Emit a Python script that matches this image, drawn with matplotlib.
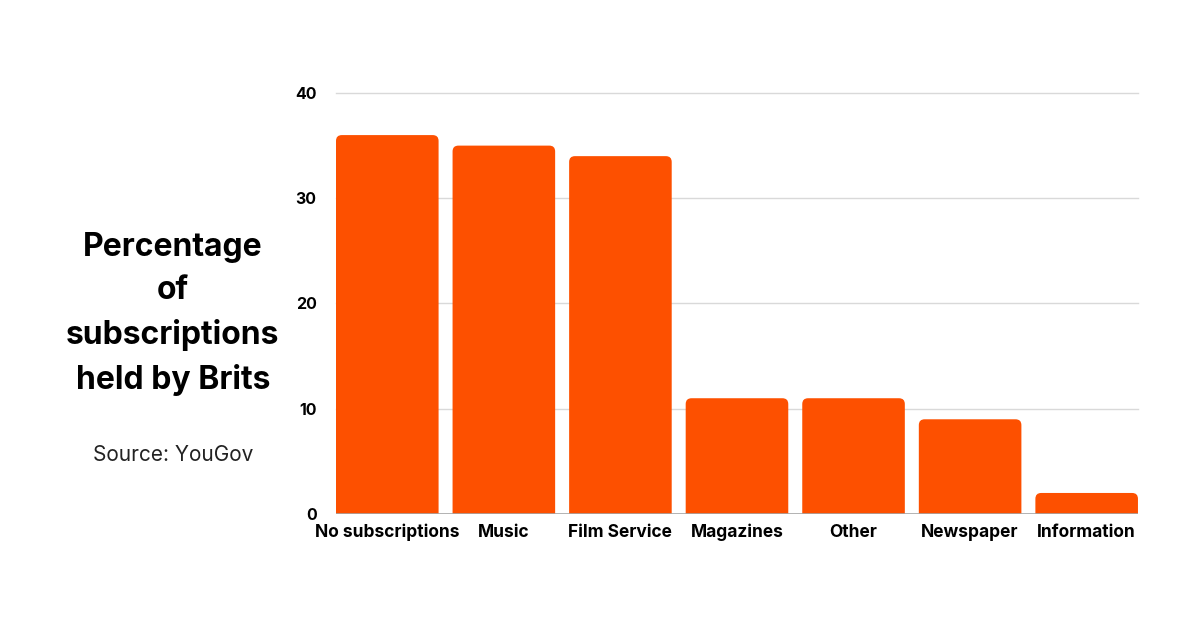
import matplotlib
matplotlib.use("Agg")
import matplotlib.pyplot as plt
from matplotlib.patches import FancyBboxPatch

categories = ["No subscriptions", "Music", "Film Service", "Magazines", "Other", "Newspaper", "Information"]
values = [36, 35, 34, 11, 11, 9, 2]
yticks = [0, 10, 20, 30, 40]

bar_color = "#FD5000"
plt.rcParams["font.family"] = ["Inter", "DejaVu Sans"]

fig = plt.figure(figsize=(12, 6.27), dpi=100)
ax = fig.add_axes([0.28, 0.1802, 0.6683, 0.6715])
ax.set_xlim(-0.44, len(categories) - 0.56)
ax.set_ylim(0, 40)

# grid lines
for t in yticks[1:]:
    ax.axhline(t, color="#D9D9D9", lw=1, zorder=0, clip_on=False)
ax.axhline(0, color="#A6A6A6", lw=1.2, zorder=3)

# rounded top bars (bottom part hidden below the axis)
fig.canvas.draw()
bbox = ax.get_window_extent()
xpx = bbox.width / (ax.get_xlim()[1] - ax.get_xlim()[0])
ypx = bbox.height / (ax.get_ylim()[1] - ax.get_ylim()[0])
aspect = xpx / ypx
width = 0.88
for i, v in enumerate(values):
    p = FancyBboxPatch((i - width / 2, -2), width, v + 2,
                       boxstyle="round,pad=0,rounding_size=0.05",
                       mutation_aspect=aspect,
                       fc=bar_color, ec="none", zorder=2)
    ax.add_patch(p)

ax.set_yticks(yticks)
ax.set_yticklabels([str(t) for t in yticks], fontsize=11.5, fontweight="bold")
ax.set_xticks(range(len(categories)))
ax.set_xticklabels(categories, fontsize=12.5, fontweight="bold")
ax.tick_params(axis="both", length=0)
ax.tick_params(axis="y", pad=14)
ax.tick_params(axis="x", pad=7)
for s in ax.spines.values():
    s.set_visible(False)

fig.text(0.144, 0.499, "Percentage\nof\nsubscriptions\nheld by Brits",
         ha="center", va="center", fontsize=23, fontweight="bold",
         linespacing=1.52)
fig.text(0.144, 0.274, "Source: YouGov", ha="center", va="center",
         fontsize=15, color="#222222")

fig.savefig("out.png", dpi=100, facecolor="white")
